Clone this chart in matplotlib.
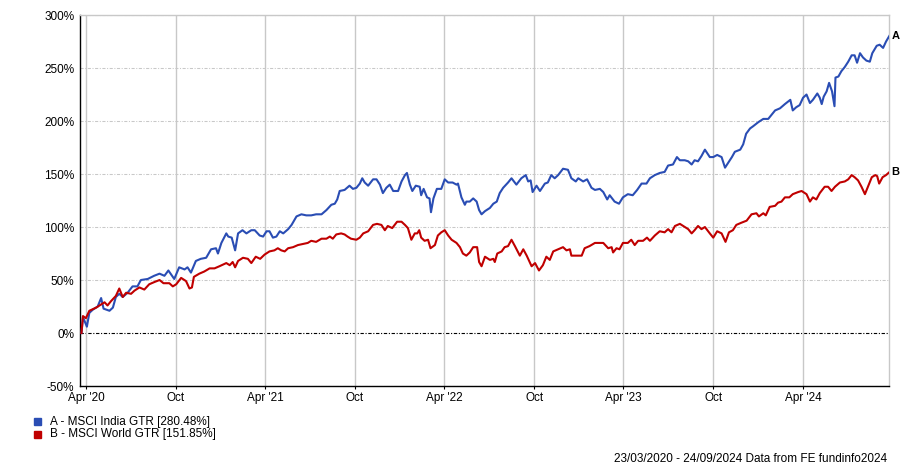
import matplotlib.pyplot as plt
from matplotlib.patches import Rectangle
import pandas as pd

# A - MSCI India GTR, cumulative % growth
india_dates = [
    "2020-03-23", "2020-03-26", "2020-04-03", "2020-04-08", "2020-04-15", "2020-04-25",
    "2020-05-02", "2020-05-07", "2020-05-19", "2020-05-26", "2020-06-01", "2020-06-08",
    "2020-06-15", "2020-06-25", "2020-07-05", "2020-07-15", "2020-07-22", "2020-08-05",
    "2020-08-18", "2020-08-29", "2020-09-08", "2020-09-16", "2020-09-28", "2020-10-08",
    "2020-10-19", "2020-10-25", "2020-11-01", "2020-11-11", "2020-11-21", "2020-12-02",
    "2020-12-12", "2020-12-22", "2020-12-26", "2021-01-02", "2021-01-12", "2021-01-16",
    "2021-01-23", "2021-01-30", "2021-02-05", "2021-02-14", "2021-02-22", "2021-03-04",
    "2021-03-11", "2021-03-21", "2021-03-28", "2021-04-04", "2021-04-10", "2021-04-17",
    "2021-04-24", "2021-05-01", "2021-05-08", "2021-05-18", "2021-05-25", "2021-06-04",
    "2021-06-14", "2021-06-24", "2021-07-04", "2021-07-14", "2021-07-25", "2021-08-04",
    "2021-08-14", "2021-08-21", "2021-08-26", "2021-08-31", "2021-09-10", "2021-09-20",
    "2021-09-27", "2021-10-04", "2021-10-11", "2021-10-16", "2021-10-21", "2021-10-28",
    "2021-11-07", "2021-11-14", "2021-11-21", "2021-11-27", "2021-12-04", "2021-12-11",
    "2021-12-18", "2021-12-28", "2022-01-04", "2022-01-11", "2022-01-15", "2022-01-21",
    "2022-01-26", "2022-02-02", "2022-02-10", "2022-02-13", "2022-02-18", "2022-02-25",
    "2022-03-02", "2022-03-05", "2022-03-10", "2022-03-17", "2022-03-26", "2022-04-02",
    "2022-04-09", "2022-04-18", "2022-04-26", "2022-04-29", "2022-05-06", "2022-05-13",
    "2022-05-16", "2022-05-23", "2022-05-30", "2022-06-06", "2022-06-11", "2022-06-16",
    "2022-06-23", "2022-07-03", "2022-07-10", "2022-07-17", "2022-07-23", "2022-07-30",
    "2022-08-09", "2022-08-16", "2022-08-26", "2022-09-05", "2022-09-14", "2022-09-19",
    "2022-09-24", "2022-09-28", "2022-10-06", "2022-10-13", "2022-10-23", "2022-10-29",
    "2022-11-05", "2022-11-12", "2022-11-19", "2022-11-29", "2022-12-09", "2022-12-16",
    "2022-12-25", "2022-12-30", "2023-01-09", "2023-01-17", "2023-01-26", "2023-02-02",
    "2023-02-12", "2023-02-19", "2023-02-27", "2023-03-04", "2023-03-14", "2023-03-23",
    "2023-03-31", "2023-04-10", "2023-04-20", "2023-04-29", "2023-05-08", "2023-05-18",
    "2023-05-25", "2023-06-04", "2023-06-14", "2023-06-24", "2023-07-01", "2023-07-11",
    "2023-07-19", "2023-07-25", "2023-08-04", "2023-08-11", "2023-08-18", "2023-08-24",
    "2023-08-31", "2023-09-07", "2023-09-14", "2023-09-24", "2023-10-01", "2023-10-09",
    "2023-10-18", "2023-10-25", "2023-11-01", "2023-11-08", "2023-11-14", "2023-11-25",
    "2023-12-01", "2023-12-07", "2023-12-15", "2023-12-21", "2024-01-01", "2024-01-11",
    "2024-01-21", "2024-01-28", "2024-02-04", "2024-02-14", "2024-02-24", "2024-03-06",
    "2024-03-11", "2024-03-18", "2024-03-25", "2024-04-01", "2024-04-08", "2024-04-15",
    "2024-04-21", "2024-04-30", "2024-05-05", "2024-05-09", "2024-05-13", "2024-05-19",
    "2024-05-24", "2024-05-30", "2024-06-04", "2024-06-06", "2024-06-12", "2024-06-18",
    "2024-06-25", "2024-07-02", "2024-07-09", "2024-07-15", "2024-07-20", "2024-07-26",
    "2024-08-01", "2024-08-08", "2024-08-15", "2024-08-20", "2024-08-29", "2024-09-04",
    "2024-09-11", "2024-09-17", "2024-09-24",
]
india_values = [
    0, 15, 6, 19, 22, 25,
    33, 23, 21, 24, 34, 37,
    34, 38, 44, 44, 50, 51,
    54, 56, 54, 59, 51, 62,
    60, 62, 57, 68, 70, 71,
    79, 80, 75, 85, 94, 91,
    90, 78, 94, 97, 94, 97,
    97, 92, 91, 96, 96, 90,
    91, 96, 94, 98, 102, 110,
    112, 111, 111, 112, 112, 116,
    121, 122, 126, 134, 135, 139,
    136, 137, 141, 146, 142, 139,
    145, 145, 140, 132, 137, 140,
    134, 134, 143, 149, 151, 140,
    134, 139, 138, 130, 136, 128,
    127, 114, 127, 136, 136, 145,
    142, 142, 140, 141, 128, 121,
    124, 124, 127, 124, 116, 112,
    115, 118, 122, 124, 132, 137,
    142, 146, 140, 146, 149, 143,
    144, 133, 139, 134, 141, 142,
    149, 146, 149, 155, 154, 146,
    143, 146, 143, 145, 137, 135,
    136, 133, 126, 130, 124, 122,
    128, 131, 130, 135, 141, 141,
    146, 149, 151, 152, 158, 159,
    166, 163, 163, 162, 159, 163,
    162, 167, 173, 166, 166, 168,
    166, 156, 161, 166, 171, 173,
    178, 188, 193, 195, 199, 202,
    202, 206, 210, 212, 216, 220,
    210, 213, 215, 222, 225, 217,
    220, 226, 222, 216, 223, 228,
    236, 228, 214, 241, 242, 247,
    251, 256, 262, 262, 255, 264,
    260, 257, 256, 264, 271, 272,
    269, 275, 280.48,
]

# B - MSCI World GTR, cumulative % growth
world_dates = [
    "2020-03-23", "2020-03-26", "2020-04-01", "2020-04-08", "2020-04-22", "2020-05-02",
    "2020-05-09", "2020-05-15", "2020-05-22", "2020-06-01", "2020-06-08", "2020-06-15",
    "2020-06-22", "2020-07-02", "2020-07-09", "2020-07-19", "2020-07-29", "2020-08-08",
    "2020-08-18", "2020-08-29", "2020-09-06", "2020-09-18", "2020-09-25", "2020-10-02",
    "2020-10-12", "2020-10-22", "2020-10-29", "2020-11-03", "2020-11-07", "2020-11-18",
    "2020-11-28", "2020-12-09", "2020-12-19", "2020-12-29", "2021-01-12", "2021-01-19",
    "2021-01-25", "2021-01-30", "2021-02-05", "2021-02-15", "2021-02-25", "2021-03-04",
    "2021-03-13", "2021-03-22", "2021-03-31", "2021-04-10", "2021-04-20", "2021-04-27",
    "2021-05-04", "2021-05-11", "2021-05-18", "2021-05-28", "2021-06-07", "2021-06-17",
    "2021-06-27", "2021-07-04", "2021-07-14", "2021-07-25", "2021-08-04", "2021-08-11",
    "2021-08-17", "2021-08-24", "2021-09-03", "2021-09-10", "2021-09-16", "2021-09-23",
    "2021-10-04", "2021-10-11", "2021-10-18", "2021-10-28", "2021-11-07", "2021-11-15",
    "2021-11-24", "2021-12-01", "2021-12-07", "2021-12-16", "2021-12-26", "2022-01-04",
    "2022-01-11", "2022-01-17", "2022-01-24", "2022-01-31", "2022-02-05", "2022-02-09",
    "2022-02-13", "2022-02-20", "2022-02-27", "2022-03-04", "2022-03-13", "2022-03-19",
    "2022-03-26", "2022-04-02", "2022-04-09", "2022-04-16", "2022-04-26", "2022-05-03",
    "2022-05-09", "2022-05-16", "2022-05-23", "2022-05-30", "2022-06-07", "2022-06-11",
    "2022-06-16", "2022-06-23", "2022-07-03", "2022-07-10", "2022-07-13", "2022-07-18",
    "2022-07-27", "2022-08-02", "2022-08-09", "2022-08-16", "2022-08-23", "2022-09-02",
    "2022-09-09", "2022-09-16", "2022-09-26", "2022-10-03", "2022-10-11", "2022-10-19",
    "2022-10-26", "2022-11-02", "2022-11-09", "2022-11-19", "2022-11-29", "2022-12-06",
    "2022-12-13", "2022-12-16", "2022-12-26", "2023-01-06", "2023-01-12", "2023-01-22",
    "2023-02-02", "2023-02-19", "2023-03-01", "2023-03-08", "2023-03-11", "2023-03-18",
    "2023-03-24", "2023-03-31", "2023-04-10", "2023-04-17", "2023-04-24", "2023-05-01",
    "2023-05-11", "2023-05-19", "2023-05-25", "2023-06-04", "2023-06-14", "2023-06-24",
    "2023-07-01", "2023-07-08", "2023-07-15", "2023-07-25", "2023-08-04", "2023-08-11",
    "2023-08-18", "2023-08-24", "2023-08-31", "2023-09-07", "2023-09-14", "2023-09-24",
    "2023-10-01", "2023-10-09", "2023-10-18", "2023-10-26", "2023-11-02", "2023-11-10",
    "2023-11-17", "2023-11-27", "2023-12-08", "2023-12-18", "2023-12-28", "2024-01-02",
    "2024-01-11", "2024-01-16", "2024-01-24", "2024-02-04", "2024-02-10", "2024-02-17",
    "2024-02-24", "2024-03-04", "2024-03-11", "2024-03-22", "2024-03-29", "2024-04-08",
    "2024-04-15", "2024-04-21", "2024-04-28", "2024-05-05", "2024-05-15", "2024-05-22",
    "2024-05-29", "2024-06-05", "2024-06-15", "2024-06-25", "2024-07-02", "2024-07-09",
    "2024-07-15", "2024-07-22", "2024-07-29", "2024-08-05", "2024-08-12", "2024-08-19",
    "2024-08-26", "2024-08-30", "2024-09-03", "2024-09-10", "2024-09-17", "2024-09-24",
]
world_values = [
    0, 16, 14, 21, 24, 27,
    29, 26, 30, 35, 42, 34,
    38, 37, 40, 43, 41, 46,
    48, 50, 47, 47, 44, 46,
    52, 49, 42, 43, 53, 56,
    58, 61, 61, 63, 66, 64,
    67, 62, 68, 71, 70, 66,
    72, 70, 74, 77, 78, 80,
    78, 77, 80, 81, 83, 84,
    85, 87, 86, 89, 89, 91,
    89, 93, 94, 93, 91, 89,
    88, 90, 94, 96, 102, 103,
    102, 97, 101, 99, 105, 105,
    102, 99, 88, 94, 94, 97,
    90, 87, 88, 80, 83, 92,
    95, 97, 92, 88, 85, 81,
    75, 73, 76, 81, 81, 67,
    63, 72, 69, 70, 67, 75,
    77, 81, 82, 88, 82, 73,
    79, 73, 63, 66, 59, 64,
    72, 69, 77, 79, 81, 78,
    79, 73, 73, 73, 80, 82,
    85, 85, 80, 81, 76, 80,
    79, 85, 85, 88, 83, 87,
    87, 90, 87, 92, 96, 95,
    98, 95, 101, 103, 100, 98,
    94, 97, 101, 98, 100, 94,
    90, 96, 94, 86, 95, 97,
    102, 104, 106, 112, 113, 110,
    113, 111, 119, 120, 123, 124,
    128, 128, 131, 133, 134, 131,
    124, 128, 126, 132, 138, 138,
    134, 138, 142, 143, 145, 149,
    147, 144, 138, 131, 139, 147,
    149, 148, 141, 147, 149, 151.85,
]

series_names = ["A - MSCI India GTR [280.48%]", "B - MSCI World GTR [151.85%]"]
series_tags = ["A", "B"]
series_colors = ["#2a4db4", "#c00000"]

tick_dates = ["2020-04-01", "2020-10-01", "2021-04-01", "2021-10-01", "2022-04-01",
              "2022-10-01", "2023-04-01", "2023-10-01", "2024-04-01"]
tick_labels = ["Apr '20", "Oct", "Apr '21", "Oct", "Apr '22", "Oct", "Apr '23", "Oct", "Apr '24"]
y_ticks = [-50, 0, 50, 100, 150, 200, 250, 300]

plt.rcParams["font.family"] = ["Liberation Sans", "DejaVu Sans"]
plt.rcParams["font.size"] = 8.5

fig = plt.figure(figsize=(9, 4.67), dpi=100)
ax = fig.add_axes([0.0889, 0.1734, 0.8994, 0.7944])

grid_col = "#c8c8c8"
for y in y_ticks:
    if y == 0:
        ax.axhline(y, color="black", lw=0.8, ls=(0, (3, 1.5, 1, 1.5)), zorder=1)
    else:
        ax.axhline(y, color=grid_col, lw=0.75, ls=(0, (3, 1.5, 1, 1.5)), zorder=1)
for d in tick_dates:
    ax.axvline(pd.Timestamp(d), color=grid_col, lw=1, zorder=1)

for dates, vals, col, tag in [
    (india_dates, india_values, series_colors[0], series_tags[0]),
    (world_dates, world_values, series_colors[1], series_tags[1]),
]:
    x = pd.to_datetime(dates)
    ax.plot(x, vals, color=col, lw=1.5, zorder=3)
    ax.annotate(tag, xy=(x[-1], vals[-1]), xytext=(1.5, 0), textcoords="offset points",
                fontweight="bold", fontsize=8, va="center", ha="left",
                annotation_clip=False)

ax.set_xlim(pd.Timestamp("2020-03-20"), pd.Timestamp("2024-09-24"))
ax.set_ylim(-50, 300)
ax.set_yticks(y_ticks)
ax.set_yticklabels([f"{v}%" for v in y_ticks])
ax.set_xticks(pd.to_datetime(tick_dates))
ax.set_xticklabels(tick_labels)
ax.tick_params(axis="y", length=0, pad=4)
ax.tick_params(axis="x", length=2.5, width=0.8, pad=1.5)

for side in ["left", "bottom"]:
    ax.spines[side].set_color("black")
    ax.spines[side].set_linewidth(1)
for side in ["top", "right"]:
    ax.spines[side].set_color(grid_col)
    ax.spines[side].set_linewidth(1)

# legend below the chart
for i, (name, col) in enumerate(zip(series_names, series_colors)):
    yc = 1 - (421.5 + 13 * i) / 467
    fig.add_artist(Rectangle((34 / 900, yc - 3.5 / 467), 7 / 900, 7 / 467,
                             transform=fig.transFigure, color=col))
    fig.text(50 / 900, yc, name, va="center", ha="left")

fig.text(887 / 900, 1 - 459 / 467, "23/03/2020 - 24/09/2024 Data from FE fundinfo2024",
         ha="right", va="center")

fig.savefig("out.png", dpi=100)
